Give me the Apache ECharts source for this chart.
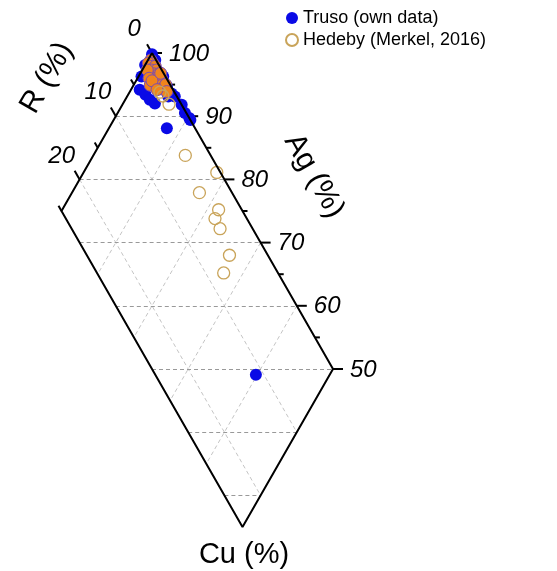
<!DOCTYPE html>
<html>
<head>
<meta charset="utf-8">
<script src="https://cdn.jsdelivr.net/npm/echarts@6/dist/echarts.min.js"></script>
<style>
  html, body { margin: 0; background: #fff; }
  #chart { width: 557px; height: 571px; }
</style>
</head>
<body>
<div id="chart"></div>
<script>
// compositions as [Ag, R, Cu] in %
const truso = [
  [99.8, 0.1, 0.1], [98.9, 0.1, 1.0], [98.1, 1.9, 0.0], [97.8, 1.8, 0.4],
  [96.3, 3.3, 0.4], [94.2, 4.6, 1.2], [93.4, 4.2, 2.4], [92.6, 4.0, 3.4],
  [92.0, 3.6, 4.4], [88.1, 3.9, 8.0], [96.3, 0.3, 3.4], [94.7, 0.6, 4.7],
  [93.6, 0.5, 5.9], [93.1, 0.3, 6.6], [93.1, 1.2, 5.7], [91.8, 0.0, 8.2],
  [90.5, 0.2, 9.3], [89.7, 0.0, 10.3], [89.4, 0.0, 10.6], [49.1, 11.1, 39.8]
];
const hedeby = [
  [93.8, 2.0, 4.2], [93.2, 1.9, 4.9], [91.9, 1.7, 6.4], [83.8, 3.5, 12.7],
  [81.1, 0.5, 18.4], [77.9, 4.5, 17.6], [75.2, 3.2, 21.6], [73.8, 4.4, 21.8],
  [72.2, 4.5, 23.3], [68.0, 5.3, 26.7], [65.2, 7.5, 27.3]
];
// dense filled cluster near the Ag corner
const hedebyCore = [
  [98.9, 0.7, 0.4], [98.4, 0.7, 0.9], [98.4, 1.3, 0.3], [97.9, 1.3, 0.8],
  [97.9, 0.6, 1.5], [97.3, 1.4, 1.3], [97.3, 0.7, 2.0], [96.7, 1.4, 1.9],
  [96.7, 0.7, 2.6], [96.0, 1.4, 2.6], [96.0, 0.7, 3.3], [95.4, 1.5, 3.1],
  [95.4, 0.8, 3.8], [94.8, 1.5, 3.7], [94.8, 0.8, 4.4], [94.3, 1.5, 4.2],
  [97.3, 2.0, 0.7], [96.0, 2.4, 1.6], [94.9, 2.8, 2.3], [95.6, 2.2, 2.2],
  [96.8, 0.4, 2.8], [95.0, 0.6, 4.4], [93.9, 1.0, 5.1], [94.2, 2.2, 3.6]
];
const agTicks = [100, 95, 90, 85, 80, 75, 70, 65, 60, 55, 50];
const rTicks = [0, 5, 10, 15, 20, 25];
const agGrid = [90, 80, 70, 60, 50, 40, 30];
const rGrid = [10, 20];
const cuGrid = [10, 20, 30, 40];

// ternary -> cartesian (x = Cu - R, y = Ag)
function tern(ag, r, cu) {
  return [cu - r, ag];
}
const pt = d => tern(d[0], d[1], d[2]);

const frame = [
  tern(100, 0, 0), tern(50, 0, 50), tern(25, 25, 50), tern(75, 25, 0), tern(100, 0, 0)
];

const agLines = agGrid.map(a => {
  const left = Math.min(25, 100 - a);
  const right = Math.max(0, 50 - a);
  return { coords: [tern(a, left, 100 - a - left), tern(a, right, 100 - a - right)] };
});
const rLines = rGrid.map(r => ({ coords: [tern(100 - r, r, 0), tern(50 - r, r, 50)] }));
const cuLines = cuGrid.map(c => ({ coords: [tern(100 - c, 0, c), tern(75 - c, 25, c)] }));

const tickFont = 'italic 24px "Liberation Sans", Arial, sans-serif';
const titleFont = '30px "Liberation Sans", Arial, sans-serif';

let option = {
  animation: false,
  grid: { left: 43.4, right: 187.8, top: 53, bottom: 12.4 },
  xAxis: { type: 'value', min: -30, max: 60, show: false },
  yAxis: { type: 'value', min: 20, max: 100, show: false },
  legend: {
    orient: 'vertical',
    left: 280,
    top: 4,
    itemWidth: 12,
    itemHeight: 12,
    itemGap: 4,
    data: ['Truso (own data)', 'Hedeby (Merkel, 2016)'],
    textStyle: { fontSize: 18, color: '#000', fontFamily: '"Liberation Sans", Arial, sans-serif' }
  },
  graphic: [
    {
      type: 'text', x: 47, y: 78, rotation: Math.PI / 3,
      style: { text: 'R (%)', font: titleFont, fill: '#000', align: 'center', verticalAlign: 'middle' }
    },
    {
      type: 'text', x: 314, y: 176, rotation: -Math.PI / 3,
      style: { text: 'Ag (%)', font: titleFont, fill: '#000', align: 'center', verticalAlign: 'middle' }
    },
    {
      type: 'text', x: 244, y: 555,
      style: { text: 'Cu (%)', font: '29px "Liberation Sans", Arial, sans-serif', fill: '#000', align: 'center', verticalAlign: 'middle' }
    }
  ],
  series: [
    {
      type: 'lines', coordinateSystem: 'cartesian2d', silent: true,
      data: rLines.concat(cuLines),
      lineStyle: { color: '#c4c4c4', width: 1, type: [4, 3], opacity: 1 }
    },
    {
      type: 'lines', coordinateSystem: 'cartesian2d', silent: true,
      data: agLines,
      lineStyle: { color: '#999', width: 1, type: [4, 3], opacity: 1 }
    },
    {
      type: 'line', data: frame, symbol: 'none', silent: true,
      lineStyle: { color: '#000', width: 2 }
    },
    {
      // Ag axis ticks along the right edge
      type: 'custom', coordinateSystem: 'cartesian2d', silent: true,
      data: agTicks.map(a => tern(a, 0, 100 - a).concat(a)),
      renderItem: function (params, api) {
        const p = api.coord([api.value(0), api.value(1)]);
        const v = api.value(2);
        const major = v % 10 === 0;
        const len = major ? 10 : 5;
        const children = [{
          type: 'line',
          shape: { x1: p[0], y1: p[1], x2: p[0] + len, y2: p[1] },
          style: { stroke: '#000', lineWidth: 2 }
        }];
        if (major) {
          children.push({
            type: 'text', x: p[0] + 17, y: p[1] + 1,
            style: { text: String(v), font: tickFont, fill: '#000', align: 'left', verticalAlign: 'middle' }
          });
        }
        return { type: 'group', children: children };
      }
    },
    {
      // R axis ticks along the left edge
      type: 'custom', coordinateSystem: 'cartesian2d', silent: true,
      data: rTicks.map(r => tern(100 - r, r, 0).concat(r)),
      renderItem: function (params, api) {
        const p = api.coord([api.value(0), api.value(1)]);
        const v = api.value(2);
        const major = v % 10 === 0;
        const len = major ? 10 : 6;
        const ux = -0.497, uy = -0.868;
        const children = [{
          type: 'line',
          shape: { x1: p[0], y1: p[1], x2: p[0] + ux * len, y2: p[1] + uy * len },
          style: { stroke: '#000', lineWidth: 2 }
        }];
        if (major) {
          children.push({
            type: 'text', x: p[0] + ux * 30 - 3, y: p[1] + uy * 27,
            style: { text: String(v), font: tickFont, fill: '#000', align: 'center', verticalAlign: 'middle' }
          });
        }
        return { type: 'group', children: children };
      }
    },
    {
      name: 'Truso (own data)',
      type: 'scatter',
      data: truso.map(pt),
      symbol: 'circle',
      symbolSize: 12,
      clip: false,
      itemStyle: { color: '#0a0ae6', opacity: 1 }
    },
    {
      name: 'Hedeby core',
      type: 'scatter',
      data: hedebyCore.map(pt),
      symbolSize: 12,
      clip: false,
      itemStyle: { color: '#f0841c', borderColor: '#7b4cb0', borderWidth: 1, opacity: 1 }
    },
    {
      name: 'Hedeby (Merkel, 2016)',
      type: 'scatter',
      data: hedeby.map(pt),
      symbol: 'circle',
      symbolSize: 12,
      clip: false,
      itemStyle: { color: 'rgba(255,255,255,0)', borderColor: '#c9a45a', borderWidth: 1.3, opacity: 1 }
    }
  ]
};

let myChart = echarts.init(document.getElementById('chart'));
myChart.setOption(option);
</script>
</body>
</html>
